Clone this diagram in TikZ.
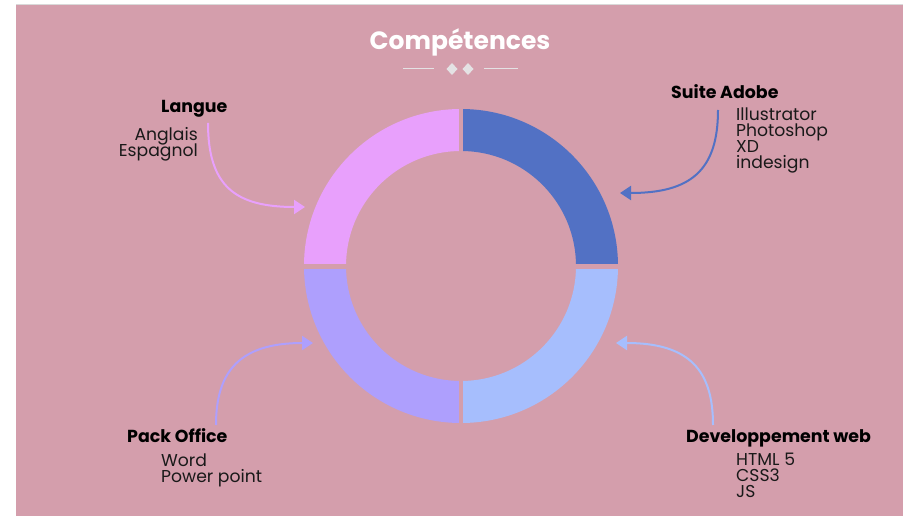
\documentclass[tikz,border=0pt]{standalone}
\usepackage{fontspec}
\setmainfont{Poppins}
\usetikzlibrary{arrows.meta}
\definecolor{bgpink}{RGB}{212,158,172}
\definecolor{cTL}{RGB}{232,160,252}
\definecolor{cTR}{RGB}{82,113,196}
\definecolor{cBL}{RGB}{174,159,253}
\definecolor{cBR}{RGB}{166,190,253}
\definecolor{divgray}{RGB}{228,226,228}
\tikzset{
  title/.style={font=\fontsize{25}{28}\selectfont\bfseries, text=white, inner sep=0pt},
  head/.style={font=\fontsize{17.4}{20}\selectfont\bfseries, text=black, inner sep=0pt},
  items/.style={font=\fontsize{17.2}{16}\selectfont, text=black!90, inner sep=0pt, align=left},
  itemsr/.style={font=\fontsize{17.2}{16}\selectfont, text=black!90, inner sep=0pt, align=right},
  link/.style={line width=2pt, -{Triangle[length=11pt,width=14pt]}},
  divline/.style={draw=divgray, line width=1pt},
  diam/.style={fill=divgray},
}
\begin{document}
\begin{tikzpicture}[x=1pt,y=1pt]
\useasboundingbox (0,0) rectangle (912,516);
\fill[bgpink] (16,0) rectangle (903,512);
\draw[gray!30, line width=0.8pt] (16,512) -- (903,512);
% title
\node[title, anchor=base] (title) at (460,466) {Compétences};
\coordinate (dl1) at (403,447);
\coordinate (dl2) at (434,447);
\coordinate (dr1) at (484,447);
\coordinate (dr2) at (518,447);
\draw[divline] (dl1) -- (dl2);
\draw[divline] (dr1) -- (dr2);
\fill[diam] (452,453) -- (457.5,447) -- (452,441) -- (446.5,447) -- cycle;
\fill[diam] (468,453) -- (473.5,447) -- (468,441) -- (462.5,447) -- cycle;
% ring
\coordinate (c) at (461,250);
\fill[cTR] (c) ++(0:157) arc[start angle=0,end angle=90,radius=157] -- ++(0,-42) arc[start angle=90,end angle=0,radius=115] -- cycle;
\fill[cTL] (c) ++(90:157) arc[start angle=90,end angle=180,radius=157] -- ++(42,0) arc[start angle=180,end angle=90,radius=115] -- cycle;
\fill[cBL] (c) ++(180:157) arc[start angle=180,end angle=270,radius=157] -- ++(0,42) arc[start angle=270,end angle=180,radius=115] -- cycle;
\fill[cBR] (c) ++(270:157) arc[start angle=270,end angle=360,radius=157] -- ++(-42,0) arc[start angle=360,end angle=270,radius=115] -- cycle;
\fill[bgpink] (459,90) rectangle (463,410);
\fill[bgpink] (300,247) rectangle (622,252);
% targets
\coordinate (tL) at (305,309);
\coordinate (tA) at (620,323);
\coordinate (tP) at (313,173);
\coordinate (tW) at (616,173);
% Langue
\node[head, anchor=base west] (langue) at (161,403) {Langue};
\node[itemsr, anchor=base east] (anglais) at (198,375) {Anglais};
\node[itemsr, anchor=base east] (espagnol) at (198,359) {Espagnol};
\coordinate (sL) at (208,393);
\draw[link, cTL] (sL) .. controls (208,330) and (235,309) .. (tL);
% Suite Adobe
\node[head, anchor=base west] (adobe) at (671,417) {Suite Adobe};
\node[items, anchor=base west] (i1) at (736,395) {Illustrator};
\node[items, anchor=base west] (i2) at (736,379) {Photoshop};
\node[items, anchor=base west] (i3) at (736,363) {XD};
\node[items, anchor=base west] (i4) at (736,347) {indesign};
\coordinate (sA) at (718,406);
\draw[link, cTR] (sA) .. controls (718,345) and (690,323) .. (tA);
% Pack Office
\node[head, anchor=base west] (pack) at (127,73) {Pack Office};
\node[items, anchor=base west] (w1) at (161,49) {Word};
\node[items, anchor=base west] (w2) at (161,33) {Power point};
\coordinate (sP) at (216,91);
\draw[link, cBL] (sP) .. controls (216,145) and (240,173) .. (tP);
% Dev web
\node[head, anchor=base west] (dev) at (686,73) {Developpement web};
\node[items, anchor=base west] (h1) at (736,50) {HTML 5};
\node[items, anchor=base west] (h2) at (736,34) {CSS3};
\node[items, anchor=base west] (h3) at (736,18) {JS};
\coordinate (sW) at (713,91);
\draw[link, cBR] (sW) .. controls (713,145) and (690,173) .. (tW);
\end{tikzpicture}
\end{document}
